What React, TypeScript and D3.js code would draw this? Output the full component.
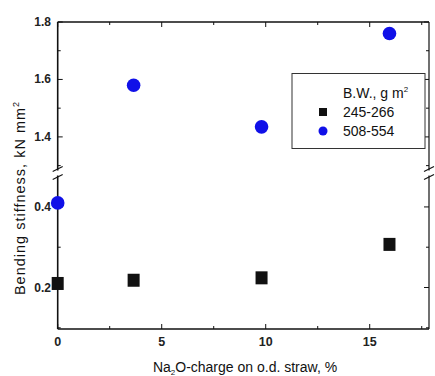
import React, { useEffect, useRef } from 'react';
import * as d3 from 'd3';

// values
const charges = [0, 3.65, 9.8, 15.95];
const bwLow = [0.21, 0.218, 0.224, 0.307]; // 245-266 g m-2
const bwHigh = [0.41, 1.58, 1.435, 1.76]; // 508-554 g m-2
const seriesNames = ['245-266', '508-554'];
const xTicks = [0, 5, 10, 15];
const xMinor = [2.5, 7.5, 12.5, 17.5];
const yUpperTicks = [1.4, 1.6, 1.8];
const yUpperMinor = [1.3, 1.5, 1.7];
const yLowerTicks = [0.2, 0.4];
const yLowerMinor = [0.1, 0.3];

const W = 435;
const H = 376;
const FONT = '"Liberation Sans", Arial, sans-serif';

const App = () => {
  const svgRef = useRef<SVGSVGElement>(null);

  useEffect(() => {
    const svg = d3.select(svgRef.current);
    svg.selectAll('*').remove();

    const left = 57.7, right = 429, top = 22, bottom = 329;
    const breakTop = 170.5, breakBottom = 175.5;

    const x = d3.scaleLinear().domain([0, 17.85]).range([left, right]);
    // broken y axis: two linear segments
    const yUp = d3.scaleLinear().domain([1.283, 1.8]).range([breakTop, top]);
    const yLo = d3.scaleLinear().domain([0.097, 0.478]).range([bottom, breakBottom]);
    const y = (v: number) => (v >= 1 ? yUp(v) : yLo(v));

    const g = svg.append('g');
    const stroke = '#111';

    // frame
    g.append('line').attr('x1', left).attr('x2', right).attr('y1', top).attr('y2', top)
      .attr('stroke', stroke).attr('stroke-width', 1.4);
    g.append('line').attr('x1', left).attr('x2', right).attr('y1', bottom).attr('y2', bottom)
      .attr('stroke', stroke).attr('stroke-width', 1.6);
    [left, right].forEach(xx => {
      g.append('line').attr('x1', xx).attr('x2', xx).attr('y1', top).attr('y2', breakTop)
        .attr('stroke', stroke).attr('stroke-width', xx === left ? 1.6 : 1.2);
      g.append('line').attr('x1', xx).attr('x2', xx).attr('y1', breakBottom).attr('y2', bottom)
        .attr('stroke', stroke).attr('stroke-width', xx === left ? 1.6 : 1.2);
      // break slashes
      [breakTop - 1.5, breakBottom + 1.5].forEach(yy => {
        g.append('line').attr('x1', xx - 5).attr('x2', xx + 5)
          .attr('y1', yy + 2.5).attr('y2', yy - 2.5)
          .attr('stroke', stroke).attr('stroke-width', 1.1);
      });
    });

    // x ticks (bottom and top, inward)
    const xt = (vals: number[], len: number) => {
      vals.forEach(v => {
        g.append('line').attr('x1', x(v)).attr('x2', x(v)).attr('y1', bottom).attr('y2', bottom - len)
          .attr('stroke', stroke).attr('stroke-width', 1);
        g.append('line').attr('x1', x(v)).attr('x2', x(v)).attr('y1', top).attr('y2', top + len)
          .attr('stroke', stroke).attr('stroke-width', 1);
      });
    };
    xt(xTicks, 5);
    xt(xMinor, 3);

    // y ticks (left and right, inward)
    const yt = (vals: number[], len: number) => {
      vals.forEach(v => {
        g.append('line').attr('x1', left).attr('x2', left + len).attr('y1', y(v)).attr('y2', y(v))
          .attr('stroke', stroke).attr('stroke-width', 1);
        g.append('line').attr('x1', right).attr('x2', right - len).attr('y1', y(v)).attr('y2', y(v))
          .attr('stroke', stroke).attr('stroke-width', 1);
      });
    };
    yt([...yUpperTicks, ...yLowerTicks], 5);
    yt([...yUpperMinor, ...yLowerMinor], 3);

    // tick labels
    g.selectAll('.xlab').data(xTicks).enter().append('text')
      .attr('x', d => x(d)).attr('y', 346)
      .attr('text-anchor', 'middle')
      .attr('font-family', FONT).attr('font-size', 12.5).attr('font-weight', 'bold')
      .attr('fill', '#222')
      .text(d => d);

    g.selectAll('.ylab').data([...yUpperTicks, ...yLowerTicks]).enter().append('text')
      .attr('x', 51).attr('y', d => y(d) + 4)
      .attr('text-anchor', 'end')
      .attr('font-family', FONT).attr('font-size', 12).attr('font-weight', 'bold')
      .attr('fill', '#222')
      .text(d => d3.format('.1f')(d));

    // axis titles
    const xTitle = g.append('text')
      .attr('x', 245).attr('y', 372)
      .attr('text-anchor', 'middle')
      .attr('font-family', FONT).attr('font-size', 14).attr('fill', '#111');
    xTitle.append('tspan').text('Na');
    xTitle.append('tspan').attr('font-size', 8).attr('dy', 3).text('2');
    xTitle.append('tspan').attr('dy', -3).text('O-charge on o.d. straw, %');

    const yTitle = g.append('text')
      .attr('transform', 'translate(25,198) rotate(-90)')
      .attr('text-anchor', 'middle')
      .attr('font-family', FONT).attr('font-size', 14.5).attr('letter-spacing', 1)
      .attr('fill', '#111');
    yTitle.append('tspan').text('Bending stiffness, kN mm');
    yTitle.append('tspan').attr('font-size', 9).attr('dy', -6).text('2');

    // data markers
    g.selectAll('.sq').data(charges).enter().append('rect')
      .attr('x', (d) => x(d) - 6).attr('y', (d, i) => y(bwLow[i]) - 6.5)
      .attr('width', 12).attr('height', 13)
      .attr('fill', '#111');

    g.selectAll('.ci').data(charges).enter().append('circle')
      .attr('cx', d => x(d)).attr('cy', (d, i) => y(bwHigh[i]))
      .attr('r', 6.8)
      .attr('fill', '#1010e8');

    // legend
    const lg = g.append('g');
    lg.append('rect').attr('x', 292).attr('y', 73.5).attr('width', 133).attr('height', 75)
      .attr('fill', 'white').attr('stroke', '#333').attr('stroke-width', 1);
    const lt = lg.append('text').attr('x', 343).attr('y', 98)
      .attr('font-family', FONT).attr('font-size', 14).attr('fill', '#111');
    lt.append('tspan').text('B.W., g m');
    lt.append('tspan').attr('font-size', 8).attr('dy', -6).text('2');

    lg.append('rect').attr('x', 319).attr('y', 108).attr('width', 8).attr('height', 8).attr('fill', '#111');
    lg.append('circle').attr('cx', 323).attr('cy', 131).attr('r', 4.5).attr('fill', '#1010e8');
    seriesNames.forEach((name, i) => {
      lg.append('text').attr('x', 343).attr('y', 117 + i * 19)
        .attr('font-family', FONT).attr('font-size', 14).attr('fill', '#111')
        .text(name);
    });
  }, []);

  return (
    <svg ref={svgRef} width={W} height={H}
      style={{ position: 'absolute', left: 0, top: 0, background: 'white' }} />
  );
};

export default App;
